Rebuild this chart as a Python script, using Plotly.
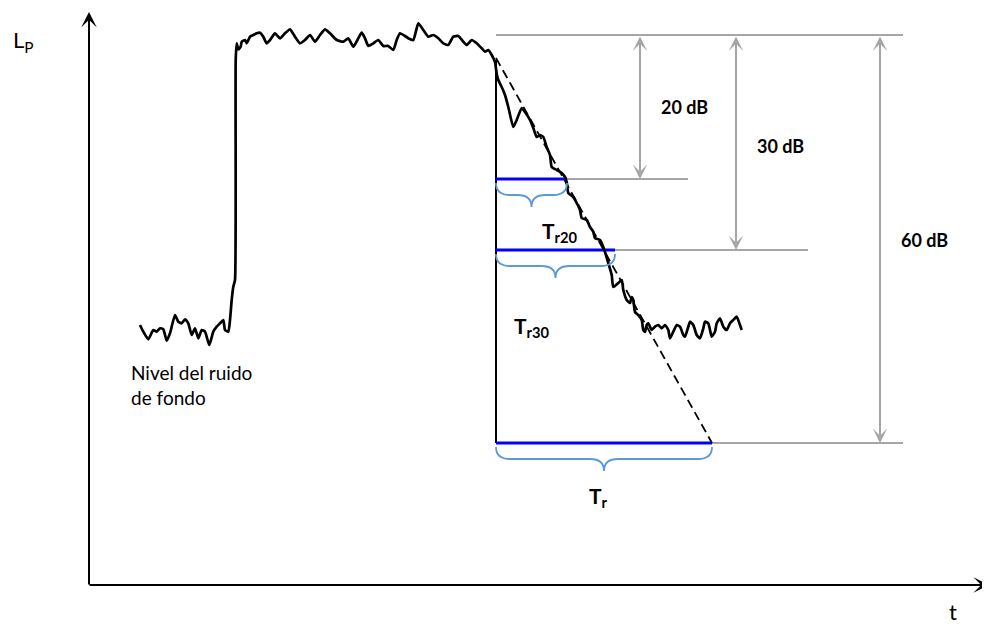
import plotly.graph_objects as go

# ---- Data (screen units: x right, y downward) ----
# background noise before the source switches on
noise_t = [140, 143.3, 148.3, 153.3, 156.7, 160, 163.3, 166.7, 170, 175, 178.3, 181.7, 185, 188.3,
           191.7, 195, 198.3, 201.7, 205, 209.3, 213.3, 216.7, 220, 223.3, 225, 228.3, 230, 231.7,
           233.3, 235]
noise_y = [325, 331.7, 339.3, 330, 331.7, 328.3, 329.3, 340.7, 333.3, 315, 321.7, 323.3, 319.3, 323.3,
           335, 328.3, 338.3, 330, 331.7, 345, 331.7, 326.7, 323.3, 320, 330, 331.7, 320, 300,
           286.7, 280]
# steady-state plateau
plateau_t = [235.7, 236.7, 238.3, 240.7, 241.7, 245, 246.7, 250, 253.3, 256.7, 260, 263.3, 266.7, 270,
             275, 280, 285, 290, 295, 300, 305, 310, 315, 320, 325, 330, 336.7, 343.3, 348.3, 353.3,
             358.3, 361.7, 365, 368.3, 373.3, 378.3, 383.3, 388.3, 393.3, 396.7, 400, 405, 408.3,
             413.3, 418.3, 423.3, 428.3, 433.3, 438.3, 443.3, 448.3, 453.3, 458.3, 463.3, 466.7,
             471.7, 476.7, 481.7, 485, 488.3]
plateau_y = [60, 43.3, 49.3, 46.7, 41.7, 40, 43.3, 36.7, 35, 33.3, 32.7, 36.7, 43.3, 40,
             33.3, 38.3, 33.3, 29.3, 36.7, 43.3, 40, 35, 41.7, 35, 29.3, 33.3, 40, 41.7, 38.3, 46.7,
             38.3, 32.7, 38.3, 46, 43.3, 40, 46, 46, 50, 40, 33.3, 36, 38.3,
             40, 23.3, 30, 36.7, 35, 38.3, 43.3, 45, 36.7, 36, 41.7, 45,
             40, 43.3, 48.3, 51.7, 50]
# decay after switch-off
decay_t = [491.7, 495, 496.7, 498.3, 501.7, 505, 508.3, 513.3, 516.7, 521.7, 525, 530, 533.3, 536.7,
           540, 543.3, 546.7, 550, 551.7, 556.7, 561.7, 565, 566.7, 568.3, 573.3, 576.7, 580, 581.7,
           586.7, 590, 593.3, 595, 600, 603.3, 605, 608.3, 611.7, 613.3, 618.3, 621.7, 623.3, 626.7,
           630, 631.7, 633.3, 635, 638.3, 641.7, 643.3, 645]
decay_yv = [55, 62, 74, 80, 87, 95, 107, 127, 120, 108, 112, 120, 128, 137,
            135, 137, 147, 155, 167, 170, 173, 177, 182, 193, 197, 203, 210, 218,
            220, 227, 232, 238, 240, 247, 252, 263, 275, 287, 283, 280, 290, 300,
            303, 297, 300, 312, 315, 320, 330, 332]
# residual noise floor
floor_t = [646.7, 648.3, 651.7, 655, 658.3, 661.7, 665, 668.3, 670, 673.3, 676.7, 680, 683.3, 685,
           688.3, 690, 693.3, 696.7, 700, 703.3, 705, 708.3, 710, 711.7, 715, 716.7, 720, 723.3,
           726.7, 730, 733.3, 736.7, 740, 741.7]
floor_y = [325, 323.3, 330, 326.7, 325, 328.3, 325, 330, 338.3, 331.7, 325, 326.7, 335, 336.7,
           326.7, 321.7, 325, 335, 338.3, 328.3, 321.7, 323.3, 330, 336.7, 331.7, 323.3, 318.3, 326.7,
           330, 323.3, 320, 316.7, 325, 330]

curve_t = noise_t + plateau_t + decay_t + floor_t
curve_y = noise_y + plateau_y + decay_yv + floor_y

t_off = 496          # switch-off time
level_top = 35       # steady level
level_dash_start = 58
decay_levels = [179, 250, 443]          # -20, -30, -60 dB levels
decay_ends = [567, 615, 712]            # times reaching those levels
dim_x = [640, 736, 880]                 # dimension arrows
dim_line_end = [688, 808, 903]
dim_labels = ["20 dB", "30 dB", "60 dB"]
tr_labels = ["T<sub>r20</sub>", "T<sub>r30</sub>", "T<sub>r</sub>"]

GRAY = "#A6A6A6"
BLUE = "#0000FF"
BRACE = "#5B9BD5"
FONT = "Lato"
PAGE_MARGIN = 8  # default body margin of the html page

fig = go.Figure()

# grey reference lines
fig.add_trace(go.Scatter(x=[t_off, 903], y=[level_top, level_top], mode="lines",
                         line=dict(color=GRAY, width=2), hoverinfo="skip"))
for yv, x0, x1 in zip(decay_levels, decay_ends, dim_line_end):
    fig.add_trace(go.Scatter(x=[x0, x1], y=[yv, yv], mode="lines",
                             line=dict(color=GRAY, width=2), hoverinfo="skip"))

# dashed extrapolation line
fig.add_trace(go.Scatter(x=[t_off, decay_ends[2]], y=[level_dash_start, decay_levels[2]], mode="lines",
                         line=dict(color="black", width=1.8, dash="9px,5px"), hoverinfo="skip"))

# vertical switch-off line
fig.add_trace(go.Scatter(x=[t_off, t_off], y=[60, decay_levels[2]], mode="lines",
                         line=dict(color="black", width=2), hoverinfo="skip"))

# blue decay-time bars
for yv, x1 in zip(decay_levels, decay_ends):
    fig.add_trace(go.Scatter(x=[t_off, x1], y=[yv, yv], mode="lines",
                             line=dict(color=BLUE, width=3), hoverinfo="skip"))

# the level curve
fig.add_trace(go.Scatter(x=curve_t, y=curve_y, mode="lines",
                         line=dict(color="black", width=2.7, shape="spline", smoothing=0.5),
                         hoverinfo="skip"))

# braces
def brace_path(x0, x1, y0, h1=12, h2=12, r=14):
    xm = (x0 + x1) / 2
    ym = y0 + h1
    yt = ym + h2
    return (f"M{x0},{y0} Q{x0},{ym} {x0 + r},{ym} L{xm - r},{ym} Q{xm},{ym} {xm},{yt} "
            f"Q{xm},{ym} {xm + r},{ym} L{x1 - r},{ym} Q{x1},{ym} {x1},{y0}")

for yv, x1 in zip(decay_levels, decay_ends):
    fig.add_shape(type="path", path=brace_path(t_off, x1, yv + 4), xref="x", yref="y",
                  line=dict(color=BRACE, width=1.8))

annotations = []
# axes with arrows
annotations.append(dict(x=89, y=12, ax=89, ay=586, xref="x", yref="y", axref="x", ayref="y",
                        text="", showarrow=True, arrowhead=3, arrowsize=1.3, arrowwidth=2,
                        arrowcolor="black", standoff=0, font=dict(size=10)))
annotations.append(dict(x=989, y=585, ax=88, ay=585, xref="x", yref="y", axref="x", ayref="y",
                        text="", showarrow=True, arrowhead=3, arrowsize=1.3, arrowwidth=2,
                        arrowcolor="black", standoff=0, font=dict(size=10)))
# dimension arrows
for xv, yv in zip(dim_x, decay_levels):
    annotations.append(dict(x=xv, y=yv, ax=xv, ay=level_top, xref="x", yref="y", axref="x", ayref="y",
                            text="", showarrow=True, arrowhead=3, startarrowhead=3, arrowside="end+start",
                            arrowsize=1.2, startarrowsize=1.2, arrowwidth=2, arrowcolor=GRAY,
                            standoff=0, startstandoff=0, font=dict(size=10)))

# dimension labels
for lab, (px, py) in zip(dim_labels, [(659, 107), (755, 146), (899, 240)]):
    annotations.append(dict(x=px, y=py, xref="x", yref="y", text=f"<b>{lab}</b>", showarrow=False,
                            xanchor="left", yanchor="middle", font=dict(family=FONT, size=18, color="black")))

# decay time labels
for lab, (px, py) in zip(tr_labels, [(540, 232), (512, 327), (587, 497)]):
    annotations.append(dict(x=px, y=py, xref="x", yref="y", text=f"<b>{lab}</b>", showarrow=False,
                            xanchor="left", yanchor="middle", font=dict(family=FONT, size=21, color="black")))

# axis titles
annotations.append(dict(x=11, y=41, xref="x", yref="y", text="L<sub>P</sub>", showarrow=False,
                        xanchor="left", yanchor="middle", font=dict(family=FONT, size=22, color="black")))
annotations.append(dict(x=947, y=611, xref="x", yref="y", text="t", showarrow=False,
                        xanchor="left", yanchor="middle", font=dict(family=FONT, size=22, color="black")))
# background noise label
annotations.append(dict(x=129, y=385, xref="x", yref="y", text="Nivel del ruido<br>de fondo",
                        showarrow=False, xanchor="left", yanchor="middle", align="left",
                        font=dict(family=FONT, size=19, color="black")))

fig.update_layout(
    width=990 - PAGE_MARGIN, height=626 - PAGE_MARGIN,
    margin=dict(l=0, r=0, t=0, b=0),
    paper_bgcolor="white", plot_bgcolor="white",
    showlegend=False,
    xaxis=dict(range=[PAGE_MARGIN, 990], visible=False, fixedrange=True),
    yaxis=dict(range=[626, PAGE_MARGIN], visible=False, fixedrange=True),
    annotations=annotations,
)

fig.write_html("out.html")
